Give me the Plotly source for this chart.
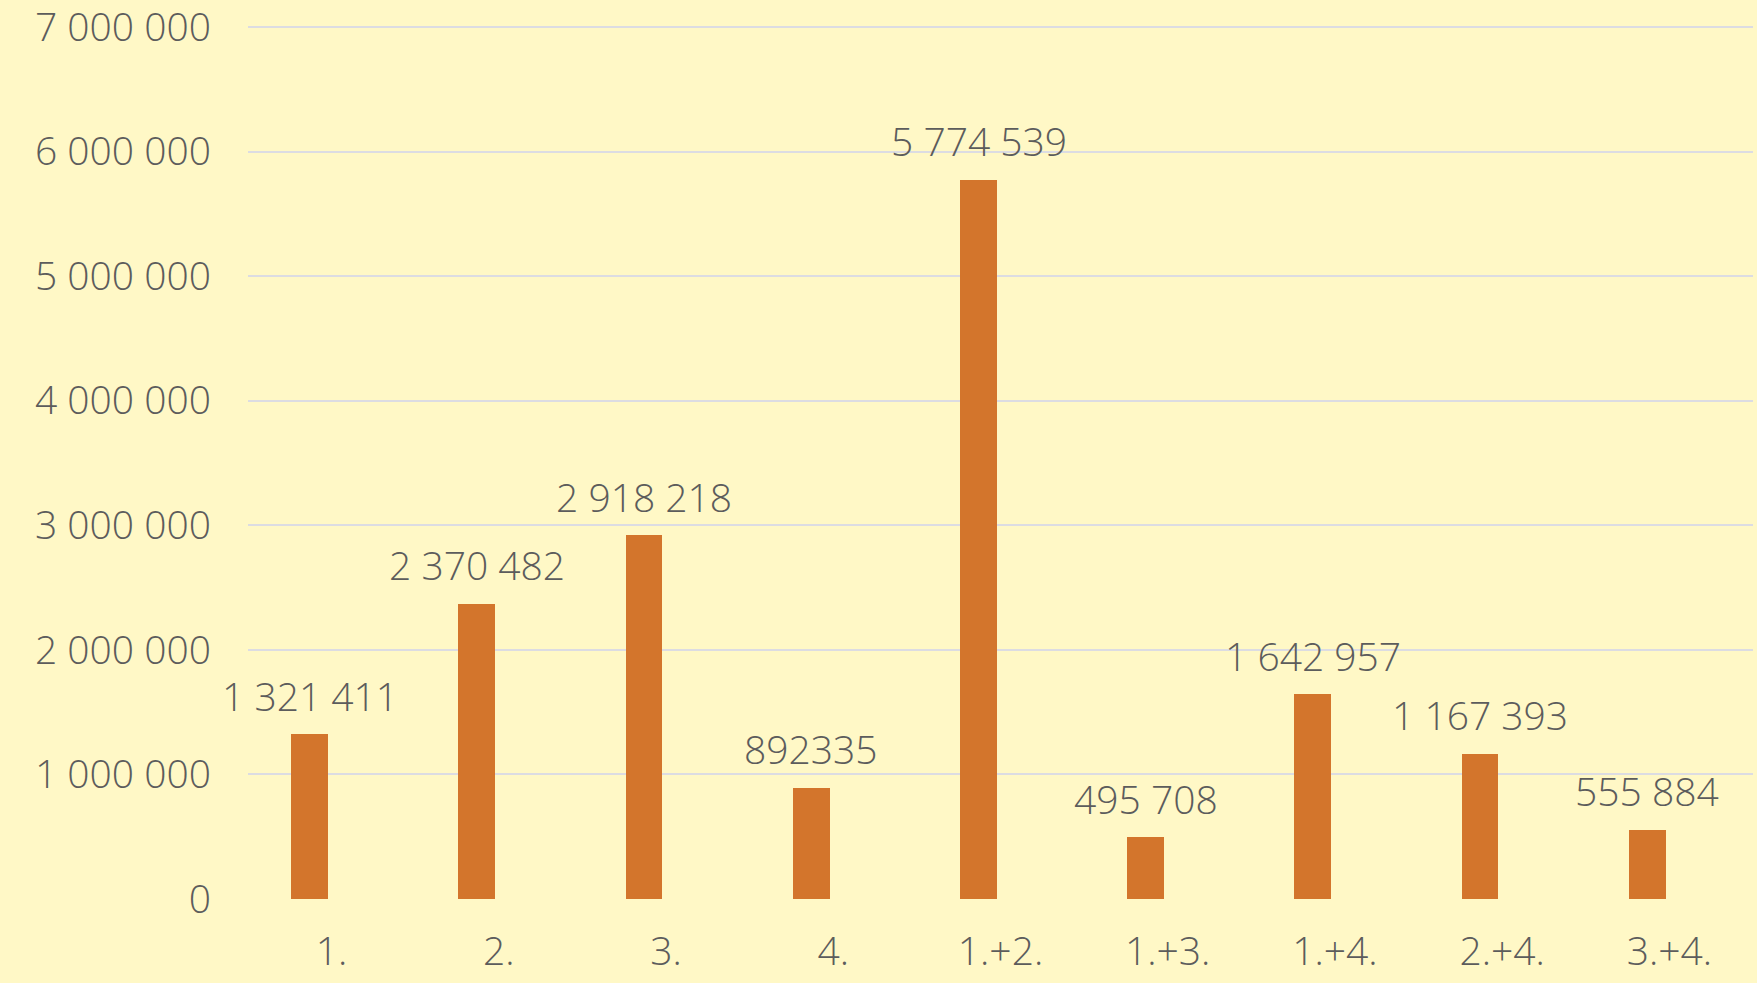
import plotly.graph_objects as go

categories = ["1.", "2.", "3.", "4.", "1.+2.", "1.+3.", "1.+4.", "2.+4.", "3.+4."]
values = [1321411, 2370482, 2918218, 892335, 5774539, 495708, 1642957, 1167393, 555884]
value_labels = ["1 321 411", "2 370 482", "2 918 218", "892335", "5 774 539",
                "495 708", "1 642 957", "1 167 393", "555 884"]
y_ticks = [0, 1000000, 2000000, 3000000, 4000000, 5000000, 6000000, 7000000]
y_tick_labels = ["0", "1 000 000", "2 000 000", "3 000 000", "4 000 000",
                 "5 000 000", "6 000 000", "7 000 000"]

BG = "#FFF8C6"
BAR = "#D3752C"
TXT = "#5C5C5C"
FONT = "Open Sans"
W = 300

fig = go.Figure()
fig.add_trace(go.Bar(
    x=categories, y=values,
    marker=dict(color=BAR, line=dict(width=0)),
    width=0.22, offset=-0.242,
    hoverinfo="skip",
))

for i, (v, t) in enumerate(zip(values, value_labels)):
    fig.add_annotation(
        x=i, y=v, text=t, showarrow=False,
        xshift=-22, yshift=39, yanchor="middle", xanchor="center",
        font=dict(family=FONT, size=39, color=TXT, weight=W),
    )

fig.update_layout(
    width=1757, height=983,
    paper_bgcolor=BG, plot_bgcolor=BG,
    margin=dict(l=248, r=4, t=25, b=84),
    showlegend=False,
    bargap=0,
    font=dict(family=FONT, size=38, color=TXT, weight=W),
    xaxis=dict(
        type="category", automargin=False,
        range=[-0.5, 8.5], showgrid=False, zeroline=False, showline=False,
        ticks="", tickfont=dict(family=FONT, size=39, color=TXT, weight=W),
        ticklabelstandoff=26, ticklabeloverflow="allow",
    ),
    yaxis=dict(
        automargin=False,
        range=[0, 7016000], tickvals=y_ticks, ticktext=y_tick_labels,
        showgrid=True, gridcolor="#DCDCE2", gridwidth=2, zeroline=False,
        showline=False, ticks="",
        tickfont=dict(family=FONT, size=39, color=TXT, weight=W),
        ticklabelstandoff=36, ticklabeloverflow="allow",
    ),
)

fig.write_html("out.html", config={"displayModeBar": False},
               post_script="document.body.style.margin='0';document.body.style.background='" + BG + "';")
